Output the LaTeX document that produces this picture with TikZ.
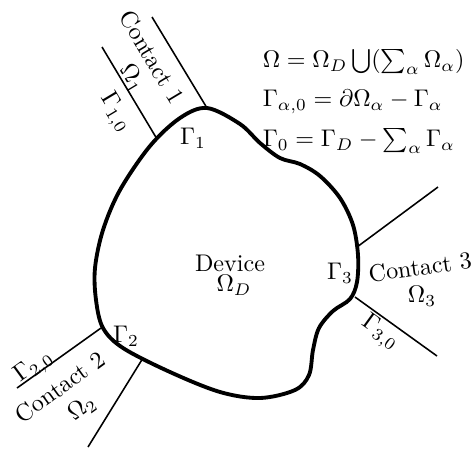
\documentclass[tikz,border=0pt]{standalone}
\usepackage{amsmath}
\begin{document}
\begin{tikzpicture}[x=0.415pt,y=-0.415pt,
  boundary/.style={line width=1.6pt,line join=round},
  contactline/.style={line width=0.65pt},
  lbl/.style={inner sep=1pt}]
\useasboundingbox (0,0) rectangle (476,449);
% device boundary
\draw[boundary] plot[smooth cycle,tension=0.55] coordinates{
 (207,108) (240,124) (260,143) (280,158) (300,164) (320,176) (340,198)
 (353,225) (358,255) (357,282) (350,299) (333,311) (319,328) (313,350)
 (309,375) (295,390) (260,398) (220,392) (170,372) (123,348) (103,328)
 (96,300) (95,268) (103,230) (120,190) (150,146) (180,118)};
% contact end points
\coordinate (c1a) at (207,108); \coordinate (c1b) at (152,17);
\coordinate (c1c) at (157,139); \coordinate (c1d) at (102,47);
\coordinate (c2a) at (101,328); \coordinate (c2b) at (17,388);
\coordinate (c2c) at (143,358); \coordinate (c2d) at (88,447);
\coordinate (c3a) at (357,247); \coordinate (c3b) at (438,187);
\coordinate (c3c) at (355,297); \coordinate (c3d) at (437,356);
\draw[contactline] (c1a) -- (c1b);
\draw[contactline] (c1c) -- (c1d);
\draw[contactline] (c2a) -- (c2b);
\draw[contactline] (c2c) -- (c2d);
\draw[contactline] (c3a) -- (c3b);
\draw[contactline] (c3c) -- (c3d);
% labels
\node[lbl,rotate=-59] (t1) at (152,57) {Contact 1};
\node[lbl,rotate=-59] (o1) at (132,78) {$\Omega_1$};
\node[lbl,rotate=-59] (g10) at (115,113) {$\Gamma_{1,0}$};
\node[lbl] (g1) at (193,138) {$\Gamma_1$};
\node[lbl] (dev) at (230,263) {Device};
\node[lbl] (od) at (234,285) {$\Omega_D$};
\node[lbl] (g2) at (126,336) {$\Gamma_2$};
\node[lbl] (g3) at (340,273) {$\Gamma_3$};
\node[lbl,rotate=8] (t3) at (420,267) {Contact 3};
\node[lbl] (o3) at (422,296) {$\Omega_3$};
\node[lbl,rotate=-36] (g30) at (380,333) {$\Gamma_{3,0}$};
\node[lbl,rotate=36] (t2) at (60,387) {Contact 2};
\node[lbl,rotate=36] (o2) at (82,408) {$\Omega_2$};
\node[lbl,rotate=36] (g20) at (34,367) {$\Gamma_{2,0}$};
\node[lbl,anchor=west] (e1) at (260,62) {$\Omega=\Omega_D\bigcup(\sum_\alpha\Omega_\alpha)$};
\node[lbl,anchor=west] (e2) at (260,102) {$\Gamma_{\alpha,0}=\partial\Omega_\alpha-\Gamma_\alpha$};
\node[lbl,anchor=west] (e3) at (260,141) {$\Gamma_0=\Gamma_D-\sum_\alpha\Gamma_\alpha$};
\end{tikzpicture}
\end{document}
